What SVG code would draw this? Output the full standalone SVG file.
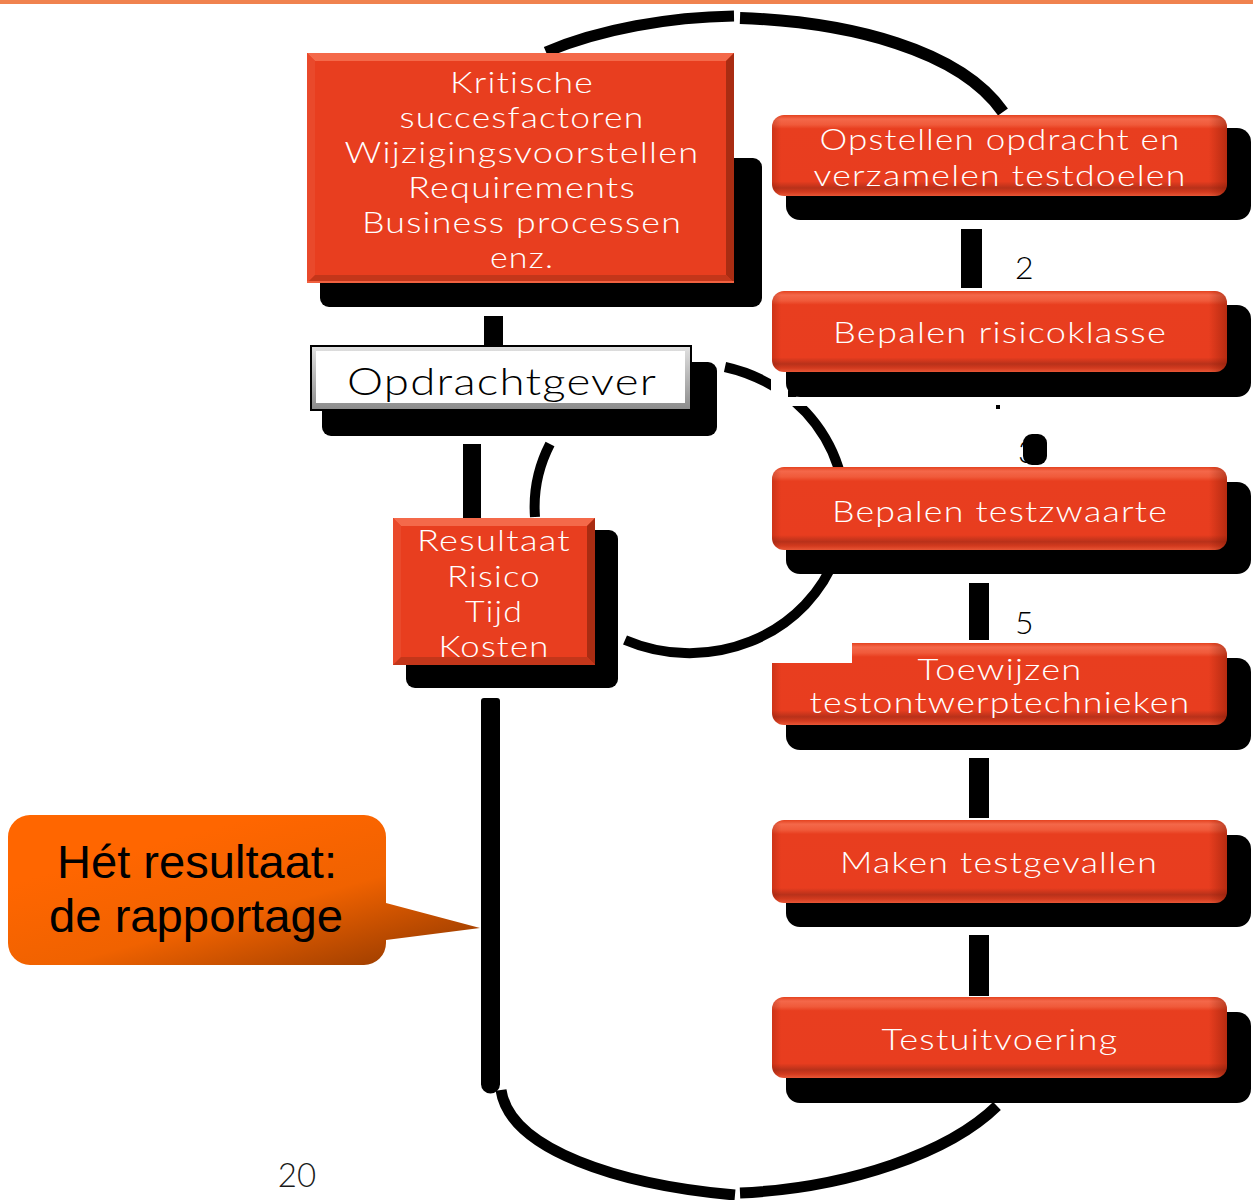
<svg xmlns="http://www.w3.org/2000/svg" width="1253" height="1200" viewBox="0 0 1253 1200">
<style>
.wt{font-family:Lato,"Liberation Sans",sans-serif;font-weight:300;fill:#fff;font-size:29px;text-anchor:middle;letter-spacing:1px}
.bt{font-family:Lato,"Liberation Sans",sans-serif;font-weight:300;fill:#000;text-anchor:middle;letter-spacing:1px}
.num{font-family:Lato,"Liberation Sans",sans-serif;font-weight:300;font-size:32px;fill:#000}
.sh{fill:#000}
.conn{fill:none;stroke:#000;stroke-linecap:butt}
.bar{fill:#000}
.pill{fill:url(#pillV)}
.pillR{fill:url(#pillH)}
</style>
<defs>
<linearGradient id="pillV" x1="0" y1="0" x2="0" y2="1">
<stop offset="0" stop-color="#E4421F"/>
<stop offset="0.05" stop-color="#F4684A"/>
<stop offset="0.12" stop-color="#F05A3A"/>
<stop offset="0.17" stop-color="#E83E1F"/>
<stop offset="0.82" stop-color="#E83D1F"/>
<stop offset="0.9" stop-color="#B8311A"/>
<stop offset="0.95" stop-color="#D23A1E"/>
<stop offset="1" stop-color="#E85636"/>
</linearGradient>
<linearGradient id="pillH" x1="0" y1="0" x2="1" y2="0">
<stop offset="0" stop-color="#7a1500" stop-opacity="0.25"/>
<stop offset="0.02" stop-color="#7a1500" stop-opacity="0"/>
<stop offset="0.96" stop-color="#7a1500" stop-opacity="0"/>
<stop offset="1" stop-color="#7a1500" stop-opacity="0.45"/>
</linearGradient>
<linearGradient id="callout" x1="0.3" y1="0.2" x2="1" y2="1">
<stop offset="0" stop-color="#FF6600"/>
<stop offset="0.45" stop-color="#F06200"/>
<stop offset="1" stop-color="#8A3500"/>
</linearGradient>
<linearGradient id="greyBevel" x1="0" y1="0" x2="0" y2="1">
<stop offset="0" stop-color="#e0e0e0"/>
<stop offset="1" stop-color="#8c8c8c"/>
</linearGradient>
</defs>

<rect x="0" y="0" width="1253" height="4" fill="#F0824F"/>

<g id="connectors">
<path class="conn" stroke-width="11" d="M546 52 C600 29 670 17 734 16"/>
<path class="conn" stroke-width="12" d="M740 18 C850 22 960 50 1003 112"/>
<rect class="bar" x="484" y="316" width="19" height="29"/>
<rect class="bar" x="463" y="444" width="18" height="74"/>
<path class="conn" stroke-width="10" d="M550 444 A155 145 0 0 0 535 517"/>
<path class="conn" stroke-width="10" d="M725 367 A155 145 0 1 1 625 640"/>
<rect x="771" y="373" width="17" height="33" fill="#fff"/>
<rect x="771" y="397" width="60" height="9" fill="#fff"/>
<rect class="bar" x="481" y="698" width="19" height="388" rx="3"/>
<circle cx="490.5" cy="1084" r="9.5" fill="#000"/>
<path class="conn" stroke-width="11" d="M501 1090 C510 1150 620 1185 735 1195"/>
<path class="conn" stroke-width="11" d="M740 1193 C850 1188 950 1152 997 1106"/>
<rect class="bar" x="961" y="229" width="21" height="59"/>
<rect class="bar" x="996" y="405" width="4" height="4"/>
<rect class="bar" x="1023" y="434" width="24" height="31" rx="9"/>
<text class="num" x="1018" y="463">3</text>
<rect class="bar" x="969" y="583" width="20" height="57"/>
<rect class="bar" x="969" y="758" width="20" height="60"/>
<rect class="bar" x="969" y="935" width="20" height="61"/>
<text class="num" x="1015" y="279">2</text>
<text class="num" x="1015" y="634">5</text>
</g>

<g id="node-kritische">
<rect class="sh" x="320" y="158" width="442" height="149" rx="9"/>
<rect x="307" y="53" width="427" height="230" fill="#E83E1F"/>
<polygon points="307,53 734,53 726,61 315,61" fill="#F4694A"/>
<polygon points="307,53 315,61 315,275 307,283" fill="#E9492B"/>
<polygon points="734,53 734,283 726,275 726,61" fill="#A92C12"/>
<polygon points="307,283 734,283 726,275 315,275" fill="#C3361A"/>
<line x1="307" y1="282" x2="734" y2="282" stroke="#F0603F" stroke-width="2"/>
<text class="wt" x="522" y="93" textLength="144" lengthAdjust="spacingAndGlyphs">Kritische</text>
<text class="wt" x="522" y="128" textLength="245" lengthAdjust="spacingAndGlyphs">succesfactoren</text>
<text class="wt" x="522" y="163" textLength="355" lengthAdjust="spacingAndGlyphs">Wijzigingsvoorstellen</text>
<text class="wt" x="522" y="198" textLength="228" lengthAdjust="spacingAndGlyphs">Requirements</text>
<text class="wt" x="522" y="233" textLength="320" lengthAdjust="spacingAndGlyphs">Business processen</text>
<text class="wt" x="522" y="268" textLength="64" lengthAdjust="spacingAndGlyphs">enz.</text>
</g>

<g id="node-opdrachtgever">
<rect class="sh" x="322" y="362" width="395" height="74" rx="9"/>
<rect x="310" y="345" width="382" height="66" fill="#000"/>
<rect x="312" y="347" width="378" height="62" fill="url(#greyBevel)"/>
<rect x="316" y="351" width="369" height="52" fill="#fff"/>
<text class="bt" x="502" y="395" font-size="37" textLength="310" lengthAdjust="spacingAndGlyphs">Opdrachtgever</text>
</g>

<g id="node-resultaat">
<rect class="sh" x="406" y="530" width="212" height="158" rx="9"/>
<rect x="393" y="518" width="202" height="147" fill="#E83E1F"/>
<polygon points="393,518 595,518 587,526 401,526" fill="#F4694A"/>
<polygon points="393,518 401,526 401,657 393,665" fill="#E9492B"/>
<polygon points="595,518 595,665 587,657 587,526" fill="#A92C12"/>
<polygon points="393,665 595,665 587,657 401,657" fill="#C3361A"/>
<text class="wt" x="494" y="551" textLength="154" lengthAdjust="spacingAndGlyphs">Resultaat</text>
<text class="wt" x="494" y="587" textLength="94" lengthAdjust="spacingAndGlyphs">Risico</text>
<text class="wt" x="494" y="622" textLength="58" lengthAdjust="spacingAndGlyphs">Tijd</text>
<text class="wt" x="494" y="657" textLength="111" lengthAdjust="spacingAndGlyphs">Kosten</text>
</g>

<g id="node-opstellen">
<rect class="sh" x="786" y="128" width="465" height="92" rx="14"/>
<rect class="pill" x="772" y="115" width="455" height="81" rx="12"/>
<rect class="pillR" x="772" y="115" width="455" height="81" rx="12"/>
<text class="wt" x="1000" y="150" textLength="361" lengthAdjust="spacingAndGlyphs">Opstellen opdracht en</text>
<text class="wt" x="1000" y="186" textLength="373" lengthAdjust="spacingAndGlyphs">verzamelen testdoelen</text>
</g>

<g id="node-risicoklasse">
<rect class="sh" x="786" y="305" width="465" height="92" rx="14"/>
<rect class="pill" x="772" y="291" width="455" height="81" rx="12"/>
<rect class="pillR" x="772" y="291" width="455" height="81" rx="12"/>
<text class="wt" x="1000" y="343" textLength="334" lengthAdjust="spacingAndGlyphs">Bepalen risicoklasse</text>
</g>

<g id="node-testzwaarte">
<rect class="sh" x="786" y="482" width="465" height="92" rx="14"/>
<rect class="pill" x="772" y="467" width="455" height="83" rx="12"/>
<rect class="pillR" x="772" y="467" width="455" height="83" rx="12"/>
<text class="wt" x="1000" y="522" textLength="336" lengthAdjust="spacingAndGlyphs">Bepalen testzwaarte</text>
</g>

<g id="node-toewijzen">
<rect class="sh" x="786" y="658" width="465" height="92" rx="14"/>
<rect class="pill" x="772" y="643" width="455" height="82" rx="12"/>
<rect class="pillR" x="772" y="643" width="455" height="82" rx="12"/>
<rect x="770" y="640" width="82" height="23" fill="#fff"/>
<text class="wt" x="1000" y="680" textLength="165" lengthAdjust="spacingAndGlyphs">Toewijzen</text>
<text class="wt" x="1000" y="713" textLength="381" lengthAdjust="spacingAndGlyphs">testontwerptechnieken</text>
</g>

<g id="node-maken">
<rect class="sh" x="786" y="835" width="465" height="92" rx="14"/>
<rect class="pill" x="772" y="820" width="455" height="83" rx="12"/>
<rect class="pillR" x="772" y="820" width="455" height="83" rx="12"/>
<text class="wt" x="999" y="873" textLength="318" lengthAdjust="spacingAndGlyphs">Maken testgevallen</text>
</g>

<g id="node-testuitvoering">
<rect class="sh" x="786" y="1012" width="465" height="91" rx="14"/>
<rect class="pill" x="772" y="997" width="455" height="81" rx="12"/>
<rect class="pillR" x="772" y="997" width="455" height="81" rx="12"/>
<text class="wt" x="1000" y="1050" textLength="237" lengthAdjust="spacingAndGlyphs">Testuitvoering</text>
</g>

<g id="callout">
<path d="M30 815 H364 A22 22 0 0 1 386 837 V903 L480 928 L386 940 V943 A22 22 0 0 1 364 965 H30 A22 22 0 0 1 8 943 V837 A22 22 0 0 1 30 815 Z" fill="url(#callout)"/>
<text x="197" y="878" font-family="'Liberation Sans',Arial,sans-serif" font-size="47" fill="#000" text-anchor="middle" textLength="280" lengthAdjust="spacingAndGlyphs">Hét resultaat:</text>
<text x="196" y="932" font-family="'Liberation Sans',Arial,sans-serif" font-size="47" fill="#000" text-anchor="middle" textLength="294" lengthAdjust="spacingAndGlyphs">de rapportage</text>
</g>

<text x="297" y="1187" font-family="Lato,'Liberation Sans',sans-serif" font-weight="300" font-size="33" fill="#1a1a1a" text-anchor="middle">20</text>
</svg>
